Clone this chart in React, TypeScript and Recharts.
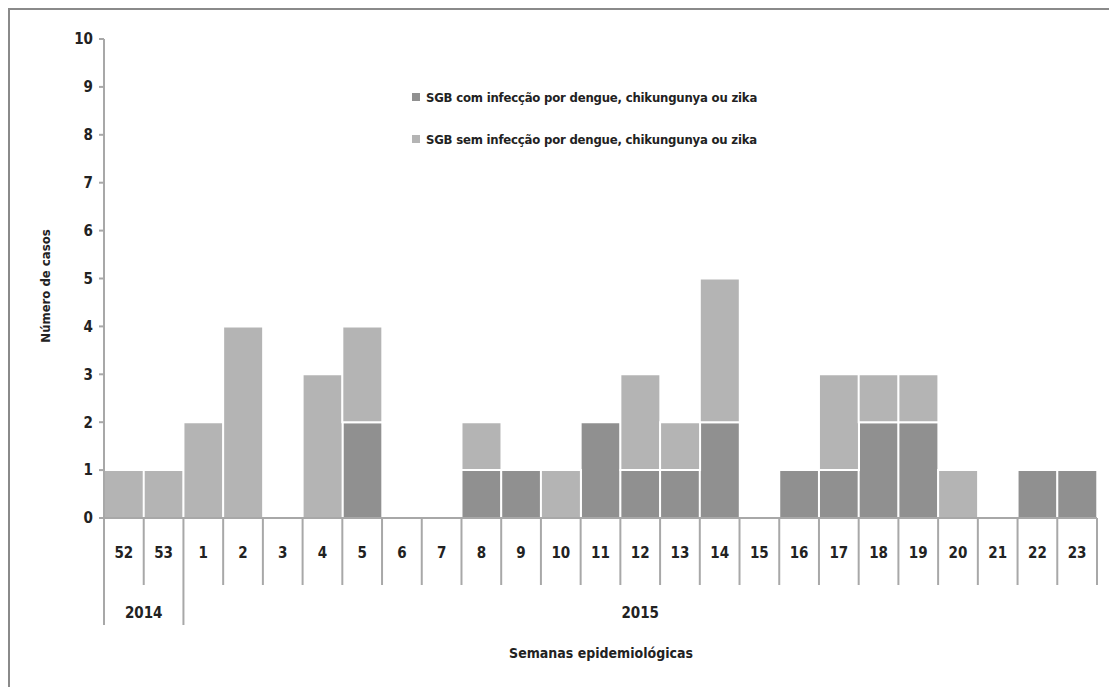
import { BarChart, Bar, XAxis, YAxis, Legend } from 'recharts';

// Semanas epidemiológicas (2014: 52-53, 2015: 1-23)
const weeks = ['52', '53', '1', '2', '3', '4', '5', '6', '7', '8', '9', '10', '11', '12', '13', '14', '15', '16', '17', '18', '19', '20', '21', '22', '23'];
const years = ['2014', '2015'];
const comInfeccao = [0, 0, 0, 0, 0, 0, 2, 0, 0, 1, 1, 0, 2, 1, 1, 2, 0, 1, 1, 2, 2, 0, 0, 1, 1];
const semInfeccao = [1, 1, 2, 4, 0, 3, 2, 0, 0, 1, 0, 1, 0, 2, 1, 3, 0, 0, 2, 1, 1, 1, 0, 0, 0];
const yTicks = [0, 1, 2, 3, 4, 5, 6, 7, 8, 9, 10];

const data = weeks.map((w, i) => ({ week: w, com: comInfeccao[i], sem: semInfeccao[i] }));

const FONT = '"DejaVu Sans Condensed", "Liberation Sans Narrow", sans-serif';
const DARK = '#909090';
const LIGHT = '#b4b4b4';
const AXIS = '#a8a8a8';
const TEXT = '#222';

const W = 1109;
const H = 679;
const M = { top: 31, right: 20, bottom: 102, left: 0 };
const Y_W = 96;
const PLOT_W = W - M.left - M.right - Y_W;
const BAND = PLOT_W / weeks.length;

const WeekTick = (props: any) => {
  const { x, y, payload, index } = props;
  const left = x - BAND / 2;
  const right = x + BAND / 2;
  const firstOfYear = index === 0 || index === 2;
  return (
    <g>
      <line x1={left} y1={y} x2={left} y2={firstOfYear ? y + 107 : y + 67} stroke={AXIS} strokeWidth={2} />
      {index === weeks.length - 1 && (
        <line x1={right} y1={y} x2={right} y2={y + 67} stroke={AXIS} strokeWidth={2} />
      )}
      <text x={x} y={y + 40} textAnchor="middle" fontFamily={FONT} fontWeight="bold" fontSize={15} fill={TEXT}>
        {payload.value}
      </text>
      {index === 0 && (
        <text x={x + BAND / 2} y={y + 100} textAnchor="middle" fontFamily={FONT} fontWeight="bold" fontSize={15} fill={TEXT}>
          {years[0]}
        </text>
      )}
      {index === 2 && (
        <text x={left + (weeks.length - 2) * BAND / 2} y={y + 100} textAnchor="middle" fontFamily={FONT} fontWeight="bold" fontSize={15} fill={TEXT}>
          {years[1]}
        </text>
      )}
    </g>
  );
};

const LegendContent = (props: any) => {
  const { payload } = props;
  return (
    <div style={{ fontFamily: FONT, fontWeight: 'bold', fontSize: 13, letterSpacing: -0.2, color: TEXT, whiteSpace: 'nowrap' }}>
      {payload.map((p: any) => (
        <div key={p.value} style={{ display: 'flex', alignItems: 'center', height: 42 }}>
          <span style={{ display: 'inline-block', width: 8, height: 8, background: p.color, marginRight: 6 }} />
          {p.value}
        </div>
      ))}
    </div>
  );
};

export default function App() {
  return (
    <div style={{ position: 'relative', width: W, height: H, borderTop: '2px solid #8a8a8a', borderLeft: '2px solid #8a8a8a', boxSizing: 'border-box', background: '#fff' }}>
      <div style={{ position: 'absolute', left: -2, top: -2 }}>
        <BarChart width={W} height={H} data={data} margin={M} barCategoryGap={0}>
          <XAxis
            dataKey="week"
            interval={0}
            tickSize={0}
            tickMargin={0}
            tickLine={false}
            axisLine={{ stroke: AXIS, strokeWidth: 2 }}
            tick={<WeekTick />}
            height={67}
            label={{
              content: () => (
                <text x={593} y={650} textAnchor="middle" fontFamily={FONT} fontWeight="bold" fontSize={14} fill={TEXT}>
                  Semanas epidemiológicas
                </text>
              ),
            }}
          />
          <YAxis
            width={Y_W}
            domain={[0, 10]}
            ticks={yTicks}
            interval={0}
            tickSize={5}
            tickMargin={6}
            axisLine={{ stroke: AXIS, strokeWidth: 2 }}
            tickLine={{ stroke: AXIS, strokeWidth: 2 }}
            tick={{ fontFamily: FONT, fontWeight: 'bold', fontSize: 15, fill: TEXT }}
            label={{
              content: () => (
                <text x={42} y={278} transform="rotate(-90 42 278)" textAnchor="middle" fontFamily={FONT} fontWeight="bold" fontSize={13} fill={TEXT}>
                  Número de casos
                </text>
              ),
            }}
          />
          <Legend
            layout="horizontal"
            verticalAlign="middle"
            align="center"
            wrapperStyle={{ left: 404, top: 68, width: 420 }}
            content={<LegendContent />}
          />
          <Bar dataKey="com" name="SGB com infecção por dengue, chikungunya ou zika" stackId="a" fill={DARK} stroke="#fff" strokeWidth={2} isAnimationActive={false} />
          <Bar dataKey="sem" name="SGB sem infecção por dengue, chikungunya ou zika" stackId="a" fill={LIGHT} stroke="#fff" strokeWidth={2} isAnimationActive={false} />
        </BarChart>
      </div>
    </div>
  );
}
